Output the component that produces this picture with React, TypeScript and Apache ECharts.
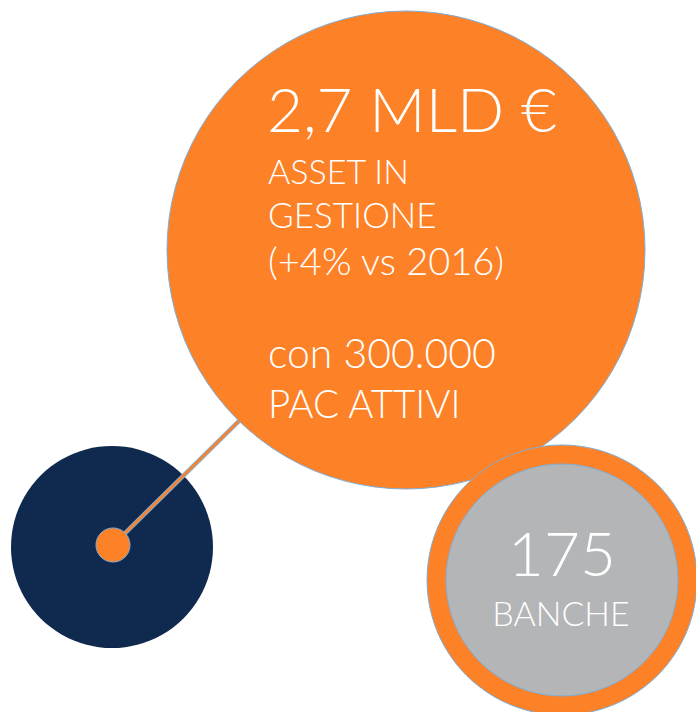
import React, { useEffect, useRef } from "react";
import * as echarts from "echarts";

// ---- content ----
const headline = "2,7 MLD €";
const assetLines = ["ASSET IN", "GESTIONE", "(+4% vs 2016)", "con 300.000", "PAC ATTIVI"];
const bankCount = "175";
const bankLabel = "BANCHE";

// ---- bubbles (name, cx, cy, diameter) ----
const bubbleNames = ["origine", "asset", "anello", "banche", "punto"];
const bubbleX = [112, 406, 562, 562, 113];
const bubbleY = [547, 250, 580, 580, 545];
const bubbleSize = [202, 478, 270, 232, 34];

// connector from dot to the big bubble
const connectorX = [113, 240];
const connectorY = [545, 420];

const ORANGE = "#FD8127";
const NAVY = "#0F2A4E";
const GREY = "#B3B5B7";
const EDGE = "#7FAED6";
const FONT = "Lato, 'Open Sans', sans-serif";

export default function App() {
  const ref = useRef<HTMLDivElement>(null);
  useEffect(() => {
    if (!ref.current) return;
    const chart = echarts.init(ref.current, undefined, { renderer: "svg" });
    const pt = (i: number) => [bubbleX[i], bubbleY[i]];
    const connector = connectorX.map((x, i) => [x, connectorY[i]]);
    const txt = (text: string, x: number, y: number, size: number, align = "left") => ({
      type: "text",
      x,
      y,
      z: 100,
      style: {
        text,
        fill: "#fff",
        fontFamily: FONT,
        fontSize: size,
        fontWeight: 300,
        align,
        verticalAlign: "middle",
      },
    });
    chart.setOption({
      animation: false,
      grid: { left: 0, right: 0, top: 0, bottom: 0 },
      xAxis: { type: "value", min: 0, max: 696, show: false },
      yAxis: { type: "value", min: 0, max: 712, inverse: true, show: false },
      series: [
        {
          name: bubbleNames[0],
          type: "scatter",
          clip: false,
          z: 1,
          symbol: "circle",
          symbolSize: bubbleSize[0],
          data: [pt(0)],
          itemStyle: { color: NAVY, opacity: 1 },
        },
        {
          type: "line",
          clip: false,
          z: 2,
          symbol: "none",
          data: connector,
          lineStyle: { color: EDGE, width: 4.5 },
        },
        {
          type: "line",
          clip: false,
          z: 3,
          symbol: "none",
          data: connector,
          lineStyle: { color: ORANGE, width: 2.5 },
        },
        {
          name: bubbleNames[4],
          type: "scatter",
          clip: false,
          z: 4,
          symbol: "circle",
          symbolSize: bubbleSize[4],
          data: [pt(4)],
          itemStyle: { color: ORANGE, borderColor: EDGE, borderWidth: 1, opacity: 1 },
        },
        {
          name: bubbleNames[1],
          type: "scatter",
          clip: false,
          z: 5,
          symbol: "circle",
          symbolSize: bubbleSize[1],
          data: [pt(1)],
          itemStyle: { color: ORANGE, borderColor: EDGE, borderWidth: 1, opacity: 1 },
        },
        {
          name: bubbleNames[2],
          type: "scatter",
          clip: false,
          z: 6,
          symbol: "circle",
          symbolSize: bubbleSize[2],
          data: [pt(2)],
          itemStyle: { color: ORANGE, borderColor: EDGE, borderWidth: 1, opacity: 1 },
        },
        {
          name: bubbleNames[3],
          type: "scatter",
          clip: false,
          z: 7,
          symbol: "circle",
          symbolSize: bubbleSize[3],
          data: [pt(3)],
          itemStyle: { color: GREY, borderColor: EDGE, borderWidth: 1, opacity: 1 },
        },
      ],
      graphic: [
        txt(headline, 267, 108, 62),
        txt(assetLines[0], 268, 170, 34),
        txt(assetLines[1], 268, 214, 35),
        txt(assetLines[2], 268, 260, 38),
        txt(assetLines[3], 268, 352, 41),
        txt(assetLines[4], 268, 403, 38.5),
        txt(bankCount, 562, 552, 62, "center"),
        txt(bankLabel, 561, 612, 34, "center"),
      ],
    });
    return () => chart.dispose();
  }, []);
  return (
    <div
      ref={ref}
      style={{ position: "absolute", left: 0, top: 0, width: 696, height: 712 }}
    />
  );
}
